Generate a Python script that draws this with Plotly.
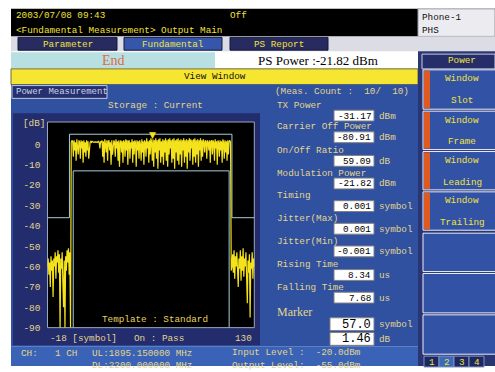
import numpy as np
import plotly.graph_objects as go

# ---------------- data ----------------
# power-vs-time trace (dB), sampled every 0.5 symbol
noise_left_x = np.arange(-18, -1.5, 0.5)
noise_left_db = [-60, -56, -64, -58, -70, -55, -62, -57, -75, -56, -60, -53, -66, -55, -58,
                 -52, -63, -54, -90, -56, -61, -53, -68, -80, -57, -90, -55, -62, -52, -58,
                 -51, -64, -53]
rise_x = [-1.5, -1.0, -0.5]
rise_db = [-90, 1.0, 2.0]
burst_x = np.arange(0, 113.5, 0.5)
burst_db = [
    1.5, -6, 2, -3, 1, -8, 2.5, 0, -5, 2,
    1, -7, 2, -2, 1.5, -9, 2, -4, 1, -6,
    2, -3, 1.5, -7, 1, 1, 1.5, 1, 1.5, 1,
    1, 1.2, 1, 1.3, 1, 1.2, 1, 1.5, 1, -2,
    1.5, 1, 2, -6, 1.5, -9, 2.5, 0, -4, 2,
    -8, 1.5, 2, -3, 1, -10, 2, -5, 1.5, 2,
    1, -6, 2.5, -2, 1.5, -8, 2, -11, 1, 2,
    -4, 1.5, -9, 2, 1, -6, 2.5, -3, 2, -10,
    1.5, 2, -7, 1, -2, 2.5, -9, 1.5, -5, 2,
    1, -11, 2, -3, 1.5, -7, 2, 0, -8, 2.5,
    -4, 1.5, -10, 2, 1, -6, 3, -2, 1.5, -9,
    2, -5, 3, 1, -8, 2.5, -11, 2, -4, 3,
    -7, 2, -12, 2.5, -3, 3, -9, 1.5, -6, 2.5,
    -10, 2, -4, 3, -8, 2, -11, 2.5, -5, 3,
    -2, 2, -9, 2.5, -7, 3, -12, 2, -4, 2.5,
    -8, 3, -10, 2, -5, 2.5, -11, 2, -3, 3,
    -9, 2, -6, 2.5, -12, 2, -4, 3, -8, 2.5,
    -2, 2, -10, 2.5, -6, 3, -9, 2, -5, 2.5,
    -11, 2, -3, 3, -8, 2, -6, 2.5, 1, -4,
    2, 1.5, -7, 2, 1, -3, 2, -9, 1.5, 2,
    -5, 2, 1, -8, 2.5, -2, 1.5, -10, 2, 1,
    -6, 2, -3, 1.5, -9, 2.5, 1, -7, 2, -4,
    1.5, -8, 2, -5, 1.5, 2, 1,
]
fall_x = [113.5]
fall_db = [-62]
noise_right_x = np.arange(114, 130.5, 0.5)
noise_right_db = [-60, -54, -63, -52, -66, -55, -60, -53, -64, -70, -56, -61, -52, -67, -55,
                  -62, -51, -65, -56, -60, -53, -72, -78, -57, -63, -54, -85, -58, -61, -53,
                  -66, -56, -60]

# standard template (upper / lower limits)
tmpl_upper_x = [-18, -2.3, -2.3, 114, 114, 130]
tmpl_upper_db = [-36, -36, 5, 5, -36, -36]
tmpl_lower_x = [0.4, 0.4, 112, 112]
tmpl_lower_db = [-90, -13, -13, -90]

y_ticks = [0, -10, -20, -30, -40, -50, -60, -70, -80, -90]
x_range = [-18, 130]
y_range = [-90, 11]

marker_symbol = 57.0
marker_db = 1.46

meas_labels = ["TX Power", "Carrier Off Power", "On/Off Ratio", "Modulation Power", "Timing",
               "Jitter(Max)", "Jitter(Min)", "Rising Time", "Falling Time"]
meas_values = ["-31.17", "-80.91", "59.09", "-21.82", "0.001", "0.001", "-0.001", "8.34", "7.68"]
meas_units = ["dBm", "dBm", "dB", "dBm", "symbol", "symbol", "symbol", "us", "us"]

soft_keys = [("Window", "Slot"), ("Window", "Frame"), ("Window", "Leading"),
             ("Window", "Trailing"), ("", ""), ("", ""), ("", "")]

# ---------------- helpers ----------------
W, H = 495, 372
MONO = "Liberation Mono"
SERIF = "Liberation Serif"
FS = 9.3
shapes, annos = [], []


def px(x):
    return x / W


def py(y):
    return 1 - y / H


def rect(x0, y0, x1, y1, fill, line=None, lw=1):
    shapes.append(dict(type="rect", xref="paper", yref="paper",
                       x0=px(x0), x1=px(x1), y0=py(y1), y1=py(y0),
                       fillcolor=fill, layer="below",
                       line=dict(color=line if line else fill, width=lw if line else 0)))


def text(x, y, s, color, size=FS, anchor="left", family=MONO):
    annos.append(dict(xref="paper", yref="paper", x=px(x), y=py(y), text=s,
                      showarrow=False, xanchor=anchor, yanchor="middle",
                      font=dict(family=family, size=size, color=color)))


YEL = "#f2e23a"
PALE = "#e2d68c"
BLUE = "#3050a0"
NAVY = "#232c6c"

# ---------------- frame / header ----------------
rect(11, 9, 418, 37, "#000000")
rect(418, 9, 495, 37, "#ececf0", "#9a9aa8")
text(14, 16, "2003/07/08 09:43", YEL)
text(228, 16, "Off", YEL)
text(14, 31, "&lt;Fundamental Measurement&gt; Output Main", YEL)
text(420, 18, "Phone-1", "#101010")
text(420, 31, "PHS", "#101010")

rect(11, 37, 495, 52, "#dcdce4")
for (x0, x1, lab, fill) in [(18, 117, "Parameter", "#272b60"),
                            (124, 222, "Fundamental", "#3556aa"),
                            (230, 328, "PS Report", "#272b60")]:
    rect(x0, 38, x1, 51, fill, "#15183a")
    text((x0 + x1) / 2, 45, lab, YEL, anchor="center")

rect(11, 53, 215, 69, "#b8e0e2")
text(113, 62, "End", "#e06a48", size=14, anchor="center", family=SERIF)
rect(215, 53, 418, 69, "#ffffff")
text(256, 62, "PS Power :-21.82 dBm", "#000000", size=13, family=SERIF)

rect(11, 70, 418, 86, "#f6e632", "#6a6a40")
text(215, 78, "View Window", "#101010", anchor="center")

# ---------------- main panel ----------------
rect(11, 86, 418, 352, BLUE)
rect(12, 87, 107, 100, "#26306e", "#c0c8e0")
text(14, 94, "Power Measurement", "#c8d4ec", size=9)
text(155, 107, "Storage : Current", PALE, anchor="center")
rect(13, 115, 260, 351, NAVY)
text(21, 126, "[dB]", PALE)
text(48, 344, "-18 [symbol]", PALE)
text(159, 344, "On : Pass", PALE, anchor="center")
text(254, 344, "130", PALE, anchor="right")
text(155, 325, "Template : Standard", "#e8d060", anchor="center")

text(273, 93, "(Meas. Count :  10/  10)", PALE)
label_y = [107, 129, 153, 176, 199, 222, 245, 269, 292]
for lab, val, unit, ly in zip(meas_labels, meas_values, meas_units, label_y):
    text(275, ly, lab, PALE)
    rect(334, ly + 5, 374, ly + 16, "#ffffff", "#808080")
    text(373, ly + 11, val, "#000000", anchor="right")
    text(377, ly + 11, unit, PALE)

text(275, 317, "Marker", PALE, size=12, family=SERIF)
rect(330, 323, 374, 336, "#ffffff", "#808080")
text(373, 330, f"{marker_symbol:.1f}", "#000000", size=12, anchor="right")
text(377, 330, "symbol", PALE)
rect(330, 338, 374, 351, "#ffffff", "#808080")
text(373, 345, f"{marker_db:.2f}", "#000000", size=12, anchor="right")
text(377, 345, "dB", PALE)

# status bar
rect(11, 352, 418, 372, "#3a62b6")
text(19, 359, "CH:", PALE)
text(53, 359, "1 CH", PALE)
text(90, 359, "UL:1895.150000 MHz", PALE)
text(90, 371, "DL:2200.000000 MHz", PALE)
text(230, 358, "Input Level :  -20.0dBm", PALE)
text(230, 371, "Output Level:  -55.0dBm", PALE)

# ---------------- soft keys ----------------
rect(418, 52, 495, 372, "#2a3574")
rect(422, 55, 495, 70, "#262e6a", "#c8cce0")
text(462, 62, "Power", YEL, anchor="center")
key_y = [(71, 111), (113, 152), (154, 193), (195, 234), (237, 276), (278, 318), (320, 360)]
for (t1, t2), (y0, y1) in zip(soft_keys, key_y):
    rect(423, y0, 496, y1, "#3252a6", "#e8ecf4")
    if t1:
        rect(424, y0 + 1, 430, y1 - 1, "#e05a20")
        text(462, y0 + 9, t1, YEL, anchor="center")
        text(462, y0 + 31, t2, YEL, anchor="center")
for i, (x0, x1) in enumerate([(424, 439), (439, 454), (454, 469), (469, 484)]):
    rect(x0, 362, x1, 373, "#3a6ab8" if i == 1 else "#1e2860", "#8090c0")
    text((x0 + x1) / 2, 368, str(i + 1), YEL, anchor="center")

# ---------------- chart ----------------
# black graticule area with thin frame, drawn in the subplot's own domain
shapes.append(dict(type="rect", xref="x domain", yref="y domain", x0=0, x1=1, y0=0, y1=1,
                   fillcolor="#000000", line=dict(color="#9aa8bc", width=1), layer="below"))

fig = go.Figure()
tmpl_style = dict(color="#a8ccd8", width=1)
fig.add_trace(go.Scatter(x=tmpl_upper_x, y=tmpl_upper_db, mode="lines", line=tmpl_style,
                         hoverinfo="skip", showlegend=False))
fig.add_trace(go.Scatter(x=tmpl_lower_x, y=tmpl_lower_db, mode="lines", line=tmpl_style,
                         hoverinfo="skip", showlegend=False))

trace_x = list(noise_left_x) + rise_x + list(burst_x) + fall_x + list(noise_right_x)
trace_db = noise_left_db + rise_db + burst_db + fall_db + noise_right_db
fig.add_trace(go.Scatter(x=trace_x, y=trace_db, mode="lines",
                         line=dict(color="#f4e21c", width=1.2), showlegend=False))

annos.append(dict(xref="x", yref="y", x=marker_symbol, y=marker_db, text="▼",
                  showarrow=False, yanchor="middle", yshift=6,
                  font=dict(family="DejaVu Sans", size=9, color="#f4e21c")))

fig.update_layout(
    width=W, height=H, margin=dict(l=0, r=0, t=0, b=0),
    paper_bgcolor="#ffffff", plot_bgcolor="rgba(0,0,0,0)",
    shapes=shapes, annotations=annos, showlegend=False,
    xaxis=dict(domain=[px(47.5), px(254.3)], range=x_range, visible=False, fixedrange=True),
    yaxis=dict(domain=[py(333), py(124)], range=y_range, tickvals=y_ticks,
               ticktext=[str(v) for v in y_ticks], showgrid=False, zeroline=False,
               showline=False, ticks="", ticklabelstandoff=6,
               tickfont=dict(family=MONO, size=9.5, color=PALE), fixedrange=True),
)

fig.write_html("out.html")
